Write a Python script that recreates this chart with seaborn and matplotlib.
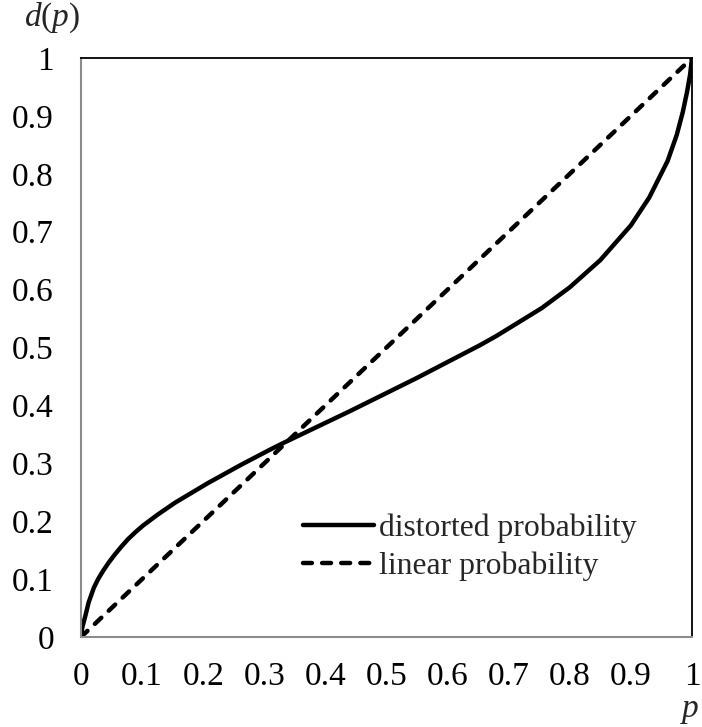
import numpy as np
import pandas as pd
import matplotlib
matplotlib.use("Agg")
import matplotlib.pyplot as plt
import seaborn as sns

sns.set_style('white')
plt.rcParams['font.family'] = ['Liberation Serif', 'DejaVu Serif']
plt.rcParams['mathtext.fontset'] = 'custom'
plt.rcParams['mathtext.rm'] = 'Liberation Serif'
plt.rcParams['mathtext.it'] = 'Liberation Serif:italic'

# values
p_dist = [0, 0.002, 0.007, 0.0126, 0.021, 0.028, 0.036, 0.045, 0.055, 0.066,
          0.077, 0.089, 0.101, 0.125, 0.154, 0.208, 0.263, 0.312, 0.331, 0.44,
          0.549, 0.653, 0.68, 0.754, 0.80, 0.85, 0.90, 0.93, 0.96, 0.975,
          0.985, 0.992, 0.997, 1]
d_dist = [0, 0.016, 0.036, 0.060, 0.085, 0.100, 0.114, 0.128, 0.142, 0.156,
          0.169, 0.181, 0.192, 0.211, 0.232, 0.266, 0.298, 0.325, 0.335, 0.390,
          0.447, 0.504, 0.520, 0.568, 0.604, 0.651, 0.711, 0.759, 0.822, 0.867,
          0.907, 0.942, 0.972, 1]
p_lin = [0, 1]
d_lin = [0, 1]
ticks = [0, 0.1, 0.2, 0.3, 0.4, 0.5, 0.6, 0.7, 0.8, 0.9, 1]
tick_labels = ['0', '0.1', '0.2', '0.3', '0.4', '0.5', '0.6', '0.7', '0.8', '0.9', '1']

fs = 24
fig = plt.figure(figsize=(7.02, 7.27), dpi=100)
ax = fig.add_axes([81/702, 1-637/727, 611/702, 579/727])

sns.lineplot(x=p_dist, y=d_dist, ax=ax, color='black', lw=3.2,
             label='distorted probability', solid_capstyle='round',
             solid_joinstyle='round')
sns.lineplot(x=p_lin, y=d_lin, ax=ax, color='black', lw=3.2,
             label='linear probability')
ax.lines[1].set_dashes((2.0, 2.3))
ax.lines[1].set_dash_capstyle('round')

ax.set_xlim(0, 1)
ax.set_ylim(0, 1)
ax.set_xticks(ticks)
ax.set_xticklabels(tick_labels)
ax.set_yticks(ticks)
ax.set_yticklabels(tick_labels)
ax.tick_params(axis='both', direction='out', length=6.5, width=1.1,
               color='#8c8c8c', labelsize=fs, labelcolor='black')
ax.tick_params(axis='x', pad=11)
ax.tick_params(axis='y', pad=13)
for s in ['left', 'bottom']:
    ax.spines[s].set_color('#8c8c8c')
    ax.spines[s].set_linewidth(1.5)
for s in ['top', 'right']:
    ax.spines[s].set_color('black')
    ax.spines[s].set_linewidth(1.3)

leg = ax.legend(loc='center left', bbox_to_anchor=(0.363, 0.155), frameon=False,
                fontsize=22.8, handlelength=2.25, handletextpad=0.15,
                borderpad=0, borderaxespad=0, labelspacing=0.28)

fig.text(80/702, 1-18/727, r'$d$($p$)', ha='right', va='center', fontsize=fs)
fig.text(690/702, 1-711/727, r'$p$', ha='center', va='center', fontsize=fs)

fig.savefig('out.png', dpi=100)
